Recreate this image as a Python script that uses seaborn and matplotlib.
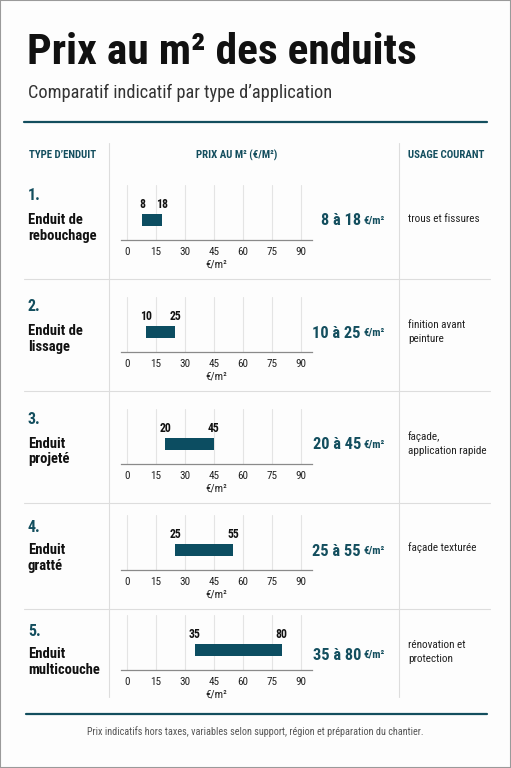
import numpy as np
import pandas as pd
import seaborn as sns
import matplotlib.pyplot as plt
from matplotlib import font_manager

# --- DATA ---
types = ["Enduit de\nrebouchage", "Enduit de\nlissage", "Enduit\nprojeté",
         "Enduit\ngratté", "Enduit\nmulticouche"]
prix_min = [8, 10, 20, 25, 35]
prix_max = [18, 25, 45, 55, 80]
usages = ["trous et fissures", "finition avant\npeinture", "façade,\napplication rapide",
          "façade texturée", "rénovation et\nprotection"]
ticks = [0, 15, 30, 45, 60, 75, 90]

# --- STYLE ---
sns.set_theme(style="white")

# a condensed family if one exists, else the closest narrow sans
fonts = font_manager.fontManager.ttflist
names = {f.name for f in fonts}
stretch = 'normal'
family = None
for cand in ['Roboto Condensed', 'Liberation Sans Narrow', 'Open Sans Condensed', 'Noto Sans Condensed']:
    if cand in names:
        family = cand
        break
if family is None:
    if any(f.name == 'DejaVu Sans' and 'Condensed' in f.fname for f in fonts):
        family, stretch = 'DejaVu Sans', 'condensed'
    elif 'Roboto' in names:
        family = 'Roboto'
    else:
        family = 'DejaVu Sans'
plt.rcParams['font.family'] = [family, 'DejaVu Sans']
plt.rcParams['font.stretch'] = stretch

TEAL = '#134e5e'
BAR = '#0c4d61'
W, H = 511, 768

fig = plt.figure(figsize=(W / 100, H / 100), dpi=100)
fig.patch.set_facecolor('#fdfdfd')


def fx(x):
    return x / W


def fy(y):
    return 1 - y / H


def hline(y, x0, x1, color, lw):
    fig.add_artist(plt.Line2D([fx(x0), fx(x1)], [fy(y), fy(y)], color=color, lw=lw))


def vline(x, y0, y1, color, lw):
    fig.add_artist(plt.Line2D([fx(x), fx(x)], [fy(y0), fy(y1)], color=color, lw=lw))


# title block
fig.text(fx(27), fy(53), "Prix au m² des enduits", fontsize=31.3, fontweight='bold',
         color='#111111', va='center', ha='left')
fig.text(fx(28), fy(93), "Comparatif indicatif par type d\u2019application", fontsize=13.2,
         color='#333333', va='center', ha='left')
hline(122, 24, 487, TEAL, 1.6)

# headers
fig.text(fx(29), fy(155), "TYPE D\u2019ENDUIT", fontsize=7.8, fontweight='bold', color=TEAL, va='center')
fig.text(fx(237), fy(155), "PRIX AU M² (€/M²)", fontsize=7.8, fontweight='bold', color=TEAL,
         va='center', ha='center')
fig.text(fx(484), fy(155), "USAGE COURANT", fontsize=7.8, fontweight='bold', color=TEAL,
         va='center', ha='right')

# grid of the table
vline(108.5, 143, 697, '#dddddd', 0.8)
vline(398.5, 143, 697, '#dddddd', 0.8)
for y in [279, 391, 503, 609]:
    hline(y, 24, 490, '#dddddd', 0.8)

axis_bottom = [240, 352, 464, 570, 670]
num_y = [196, 307, 419.5, 527, 631]
name_y = [228, 339, 451.5, 558, 662]
price_y = [218, 331, 442, 549, 653]
usage_y = [219, 332.5, 443.5, 548, 652.5]

ax_h = 55
bar_frac = 20 / ax_h          # bar centre height inside the panel
bar_w = 12 / ax_h

df = pd.DataFrame({'type': types, 'min': prix_min, 'max': prix_max, 'usage': usages})
df['largeur'] = df['max'] - df['min']

for i, row in df.iterrows():
    b = axis_bottom[i]
    ax = fig.add_axes([fx(120.7), fy(b), (311.7 - 120.7) / W, ax_h / H])
    ax.set_facecolor('none')
    sns.barplot(data=df.iloc[[i]], x='largeur', y='type', color=BAR, width=bar_w,
                saturation=1, ax=ax, zorder=3)
    # shift the bar to start at the minimum price
    for p in ax.patches:
        p.set_x(row['min'])
        p.set_edgecolor('none')
    ax.set_xlim(-3.1, 95.5)
    ax.set_ylim(bar_frac, bar_frac - 1)
    ax.set_xticks(ticks)
    ax.set_yticks([])
    ax.set_ylabel('')
    ax.set_xlabel('€/m²', fontsize=8, color='#222222', labelpad=2)
    ax.tick_params(axis='x', length=0, labelsize=8, labelcolor='#222222', pad=5)
    ax.grid(axis='x', color='#e4e4e4', lw=0.8, zorder=0)
    for s in ['top', 'left', 'right']:
        ax.spines[s].set_visible(False)
    ax.spines['bottom'].set_color('#8a8a8a')
    ax.spines['bottom'].set_linewidth(0.9)
    for v in (row['min'], row['max']):
        ax.annotate(str(v), xy=(v, -bar_w / 2), xytext=(0, 2), textcoords='offset points',
                    ha='center', va='bottom', fontsize=8.5, fontweight='bold', color='#111111')

    # left column
    fig.text(fx(28), fy(num_y[i]), f"{i + 1}.", fontsize=11.5, fontweight='bold', color=TEAL,
             va='center')
    fig.text(fx(28), fy(name_y[i]), row['type'], fontsize=10.5, fontweight='bold', color='#111111',
             va='center', linespacing=1.1)

    # price text: small unit right-aligned, big range just left of it
    unit = fig.text(fx(385), fy(price_y[i] + 5), "€/m²", fontsize=8, fontweight='bold',
                    color=TEAL, ha='right', va='baseline')
    fig.add_artist(plt.Annotation(f"{row['min']} à {row['max']}", xy=(0, 0), xycoords=unit,
                                  xytext=(-2, 0), textcoords='offset points', ha='right',
                                  va='baseline', fontsize=11.8, fontweight='bold', color=TEAL))

    # usage column
    fig.text(fx(408), fy(usage_y[i]), row['usage'], fontsize=8, color='#222222',
             va='center', linespacing=1.5)

hline(714, 26, 487, TEAL, 1.6)
fig.text(fx(255), fy(732), "Prix indicatifs hors taxes, variables selon support, région et préparation du chantier.",
         fontsize=7.3, color='#555555', ha='center', va='center')

fig.add_artist(plt.Rectangle((0, 0), 1, 1, transform=fig.transFigure, fill=False,
                             edgecolor='#9a9a9a', lw=1.5))

plt.savefig('out.png', dpi=100, facecolor=fig.get_facecolor())
